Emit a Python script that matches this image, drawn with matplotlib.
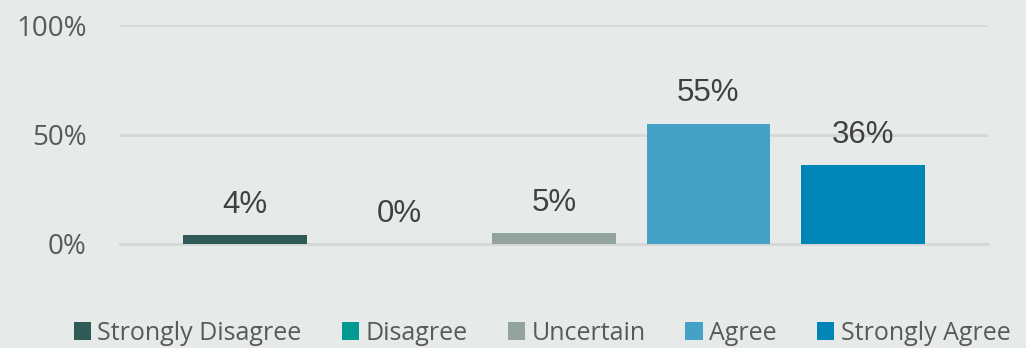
import matplotlib.pyplot as plt
from matplotlib.patches import Patch

categories = ['Strongly Disagree', 'Disagree', 'Uncertain', 'Agree', 'Strongly Agree']
values = [4, 0, 5, 55, 36]
colors = ['#2F5A56', '#009A93', '#93A4A0', '#45A1C6', '#0086B6']
yticks = [0, 50, 100]

bg = '#E6EAE9'
text_col = '#595959'

fig = plt.figure(figsize=(10.26, 3.48), dpi=100, facecolor=bg)
ax = fig.add_axes([120 / 1026, 1 - 244 / 348, 868 / 1026, 219 / 348])
ax.set_facecolor(bg)

x = range(len(categories))
bars = ax.bar(x, values, width=0.80, color=colors, zorder=3)

for xi, v in zip(x, values):
    ax.annotate(f"{v}%", (xi, v), xytext=(0, 11), textcoords='offset points',
                ha='center', va='bottom', fontsize=22.5, color='#404040',
                family='Liberation Sans')

ax.set_xlim(-0.81, 4.81)
ax.set_ylim(0, 100)
ax.set_yticks(yticks)
ax.set_yticklabels([f"{t}%" for t in yticks], fontsize=20, color=text_col,
                   family='Open Sans')
ax.tick_params(axis='y', length=0, pad=24)
ax.set_xticks([])
ax.yaxis.grid(True, color='#D6D8D8', lw=2, zorder=0)
for s in ax.spines.values():
    s.set_visible(False)
ax.spines['bottom'].set_visible(True)
ax.spines['bottom'].set_color('#D6D8D8')
ax.spines['bottom'].set_linewidth(2)

handles = [Patch(facecolor=c, label=l) for c, l in zip(colors, categories)]
fig.legend(handles=handles, loc='center', bbox_to_anchor=(542 / 1026, 1 - 333 / 348),
           ncol=5, frameon=False, handlelength=0.7, handleheight=0.7,
           handletextpad=0.25, columnspacing=1.6,
           prop={'family': 'Open Sans', 'size': 18}, labelcolor=text_col)

fig.savefig('out.png', dpi=100, facecolor=bg)
